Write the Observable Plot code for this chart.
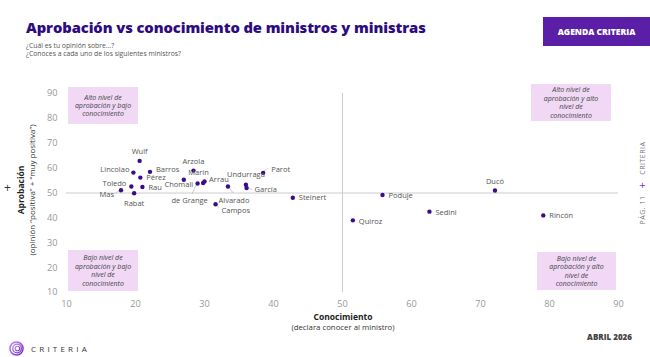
<!DOCTYPE html>
<html><head><meta charset="utf-8">
<script src="https://cdn.jsdelivr.net/npm/d3@7"></script>
<script src="https://cdn.jsdelivr.net/npm/@observablehq/plot@0.6"></script>
<style>
html,body{margin:0;padding:0;background:#fff;}
#page{position:relative;width:650px;height:357px;overflow:hidden;font-family:"Open Sans",sans-serif;}
#chart{position:absolute;left:0;top:0;}
.abs{position:absolute;white-space:nowrap;}
#title{left:26px;top:17px;font-size:14.8px;font-weight:800;color:#2e0c80;letter-spacing:-0.1px;}
#sub{left:26px;top:42px;font-size:6.8px;line-height:8px;color:#555;}
#badge{left:543px;top:17px;width:107px;height:29px;background:#5a1fa6;color:#fff;font-size:8.5px;font-weight:800;display:flex;align-items:center;justify-content:center;}
#ytitle{left:26px;top:190px;transform:translate(-50%,-50%) rotate(-90deg);text-align:center;font-size:8px;line-height:11px;color:#333;}
#ytitle b{font-size:8.5px;color:#222;}
#xtitle{left:343px;top:312px;transform:translateX(-50%);text-align:center;font-size:7.8px;line-height:10px;color:#333;}
#xtitle b{font-size:8.5px;color:#222;}
#plus{left:4px;top:179px;font-size:12px;color:#333;}
#side{left:641px;top:183px;transform:translate(-50%,-50%) rotate(-90deg);font-size:7px;color:#777;letter-spacing:0.5px;}
#side span{color:#7b2fd0;font-size:11px;margin:0 7px;vertical-align:-1px;}
#date{right:18px;top:331px;font-size:8px;font-weight:800;color:#444;}
#logo{left:9px;top:341px;display:flex;align-items:center;}
#logo .word{font-size:8px;letter-spacing:3.2px;color:#333;margin-left:7px;}
</style>
</head><body>
<div id="page">
  <div id="chart"></div>
  <div id="title" class="abs">Aprobación vs conocimiento de ministros y ministras</div>
  <div id="sub" class="abs">¿Cuál es tu opinión sobre...?<br>¿Conoces a cada uno de los siguientes ministros?</div>
  <div id="badge" class="abs">AGENDA CRITERIA</div>
  <div id="plus" class="abs">+</div>
  <div id="ytitle" class="abs"><b>Aprobación</b><br>(opinión “positiva” + “muy positiva”)</div>
  <div id="xtitle" class="abs"><b>Conocimiento</b><br>(declara conocer al ministro)</div>
  <div id="side" class="abs">PÁG. 11<span>+</span>CRITERIA</div>
  <div id="date" class="abs">ABRIL 2026</div>
  <div id="logo" class="abs">
    <svg width="15" height="15" viewBox="0 0 16 16">
      <defs><linearGradient id="lg" x1="0" y1="0" x2="1" y2="1"><stop offset="0" stop-color="#c48af0"/><stop offset="1" stop-color="#6b2bc4"/></linearGradient></defs>
      <circle cx="8" cy="8" r="7" fill="none" stroke="url(#lg)" stroke-width="1.6"/>
      <circle cx="8.6" cy="8" r="4.6" fill="none" stroke="url(#lg)" stroke-width="1.4"/>
      <circle cx="9" cy="8" r="2.4" fill="none" stroke="url(#lg)" stroke-width="1.2"/>
    </svg>
    <span class="word">CRITERIA</span>
  </div>
</div>
<script>
// ---- data ----
const ministers = ["Wulf","Lincolao","Barros","Pérez","Toledo","Rau","Mas","Rabat","Chomali","Arzola","de Grange","Marín","Arrau","Alvarado","Campos","Undurraga","García","Parot","Steinert","Poduje","Quiroz","Sedini","Ducó","Rincón"];
const conocimiento = [20.6,19.7,22.1,20.7,19.4,21.0,17.9,19.8,27.0,28.4,29.0,30.0,29.8,33.4,31.6,36.0,36.1,38.5,42.8,55.8,51.5,62.6,72.1,79.1];
const aprobacion  = [62.9,58.2,58.5,56.2,52.6,52.4,51.1,49.9,55.3,59.0,53.8,54.6,54.0,52.6,45.5,53.3,52.0,58.1,48.1,49.2,39.0,42.5,51.0,41.0];
const xTicks = [10,20,30,40,50,60,70,80,90];
const yTicks = [10,20,30,40,50,60,70,80,90];
const refX = [50];
const refY = [50];
const quadrantTexts = [
  ["Alto nivel de","aprobación y bajo","conocimiento"],
  ["Alto nivel de","aprobación y alto","nivel de","conocimiento"],
  ["Bajo nivel de","aprobación y bajo","nivel de","conocimiento"],
  ["Bajo nivel de","aprobación y alto","nivel de","conocimiento"]
];

// ---- label placement (pixels, styling) ----
const place = {
  "Wulf":[0,-9,"middle"], "Lincolao":[-4,-3,"end"], "Barros":[6,-2,"start"], "Pérez":[6,0.5,"start"],
  "Toledo":[-5,-3,"end"], "Rau":[6,1,"start"], "Mas":[-7,4.5,"end"], "Rabat":[0,10,"middle"],
  "Chomali":[-5,5,"middle"], "Arzola":[0,-9,"middle"], "de Grange":[-8,17,"middle"], "Marín":[-6,-8.5,"middle"],
  "Arrau":[6,-3,"start"], "Alvarado":[6,14,"middle"], "Campos":[6,6.5,"start"], "Undurraga":[0,-10,"middle"],
  "García":[8,2,"start"], "Parot":[8,-3,"start"], "Steinert":[6,0,"start"], "Poduje":[6,1,"start"],
  "Quiroz":[6,1,"start"], "Sedini":[6,1,"start"], "Ducó":[0,-8.5,"middle"], "Rincón":[6,0.5,"start"]
};
const leaders = {
  "de Grange":[-1,2,-5,11], "Alvarado":[1,1,6,7], "Campos":[1,1,4,4], "García":[1,0,6,2], "Parot":[1,-1,5,-4], "Mas":[-1,1,-5,3]
};
// quadrant boxes: corner anchor, pixel inset & size
const boxes = [
  {cx:"left", cy:"top", ox:2, oy:-6, w:70, h:37},
  {cx:"right", cy:"top", ox:-7, oy:-9, w:80, h:37},
  {cx:"left", cy:"bottom", ox:2, oy:-1, w:70, h:41},
  {cx:"right", cy:"bottom", ox:-2, oy:-2, w:79, h:38}
];

const data = ministers.map((n,i) => ({name:n, c:conocimiento[i], a:aprobacion[i]}));

function quadrantMark(index, scales) {
  const x = scales.x, y = scales.y;
  const g = d3.create("svg:g");
  const xl = x(xTicks[0]), xr = x(xTicks[xTicks.length-1]);
  const yt = y(yTicks[yTicks.length-1]), yb = y(yTicks[0]);
  boxes.forEach((b, i) => {
    const left = b.cx === "left" ? xl + b.ox : xr + b.ox - b.w;
    const top = b.cy === "top" ? yt + b.oy : yb + b.oy - b.h;
    g.append("rect").attr("x", left).attr("y", top).attr("width", b.w).attr("height", b.h).attr("fill", "#f1d9f6");
    const lines = quadrantTexts[i];
    const lh = 8.4;
    const startY = top + b.h/2 - (lines.length-1)*lh/2;
    const t = g.append("text").attr("text-anchor","middle").attr("font-style","italic").attr("font-size","7px").attr("fill","#444").attr("font-family","Open Sans");
    lines.forEach((ln, j) => t.append("tspan").attr("x", left + b.w/2).attr("y", startY + j*lh).attr("dy","0.35em").text(ln));
  });
  return g.node();
}

function leaderMark(index, scales) {
  const g = d3.create("svg:g").attr("stroke","#b5b5b5").attr("stroke-width",0.7);
  data.forEach(d => {
    const l = leaders[d.name];
    if (!l) return;
    const px = scales.x(d.c), py = scales.y(d.a);
    g.append("line").attr("x1", px+l[0]).attr("y1", py+l[1]).attr("x2", px+l[2]).attr("y2", py+l[3]);
  });
  return g.node();
}

const labelMarks = data.map(d => {
  const p = place[d.name];
  return Plot.text([d], {x:"c", y:"a", text:"name", dx:p[0], dy:p[1], textAnchor:p[2], fill:"#555", fontSize:7.5});
});

const chart = Plot.plot({
  width: 650, height: 357,
  marginLeft: 66, marginRight: 32, marginTop: 93, marginBottom: 65,
  x: {domain:[10,90], ticks: xTicks, tickSize:0, tickPadding:8, label:null},
  y: {domain:[10,90], ticks: yTicks, tickSize:0, tickPadding:9, label:null},
  style: {fontFamily:"Open Sans", fontSize:"9.2px", color:"#999999", background:"transparent"},
  marks: [
    quadrantMark,
    Plot.ruleY(refY, {stroke:"#cccccc", strokeWidth:1}),
    Plot.ruleX(refX, {stroke:"#cccccc", strokeWidth:1}),
    leaderMark,
    Plot.dot(data, {x:"c", y:"a", r:2.2, fill:"#3c0b8c", stroke:null}),
    ...labelMarks
  ]
});
document.getElementById("chart").appendChild(chart);
</script>
</body></html>
